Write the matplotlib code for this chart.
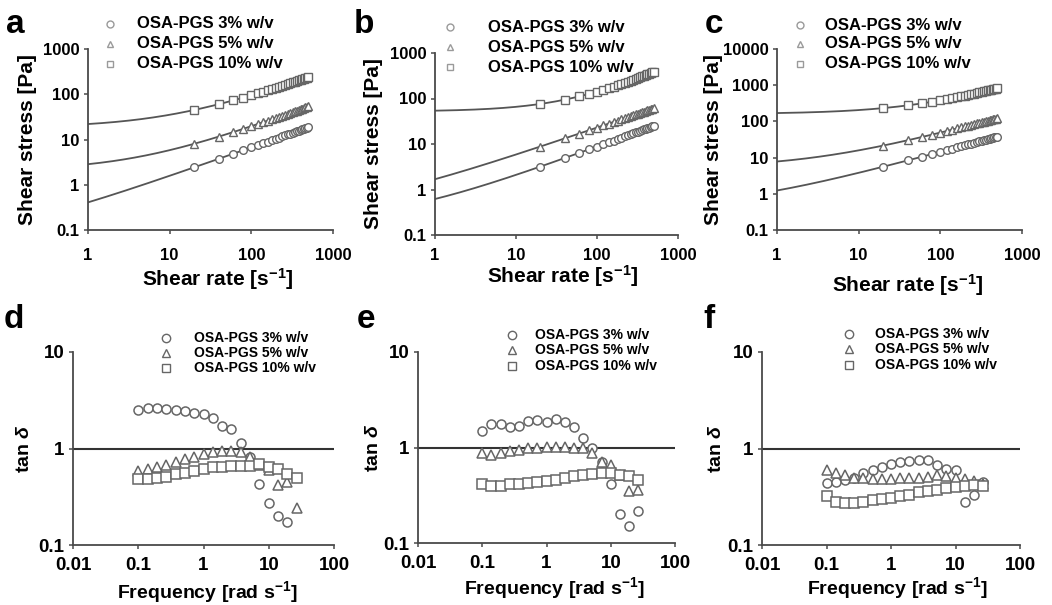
import numpy as np
import matplotlib
matplotlib.use("Agg")
import matplotlib.pyplot as plt
from matplotlib.lines import Line2D

plt.rcParams["font.family"] = ["Liberation Sans", "DejaVu Sans"]
plt.rcParams["font.weight"] = "bold"
plt.rcParams["mathtext.fontset"] = "custom"
plt.rcParams["mathtext.rm"] = "Liberation Sans:bold"
plt.rcParams["mathtext.bf"] = "Liberation Sans:bold"
plt.rcParams["mathtext.it"] = "Liberation Sans:bold:italic"

FIG_W, FIG_H = 1052, 605

labels = ["OSA-PGS 3% w/v", "OSA-PGS 5% w/v", "OSA-PGS 10% w/v"]
markers = ["o", "^", "s"]

# flow curves (a-c): shear rate [1/s] vs shear stress [Pa]
shearRate = [20, 40, 60, 80, 100, 120, 140, 160, 180, 200, 220, 240, 260,
             280, 300, 320, 340, 360, 380, 400, 420, 440, 460, 480, 500]

stressA3 = [2.43, 3.75, 4.84, 5.81, 6.69, 7.51, 8.28, 9.02, 9.72, 10.4, 11.0, 11.7, 12.3,
            12.9, 13.5, 14.0, 14.6, 15.1, 15.6, 16.2, 16.7, 17.2, 17.7, 18.2, 18.6]
stressA5 = [8.05, 11.6, 14.6, 17.2, 19.7, 22.0, 24.2, 26.2, 28.2, 30.1, 32.0, 33.8, 35.5,
            37.2, 38.9, 40.5, 42.1, 43.7, 45.2, 46.7, 48.2, 49.7, 51.1, 52.5, 53.9]
stressA10 = [45, 60.3, 73.1, 84.5, 95, 105, 114, 123, 131, 139, 147, 154, 162,
             169, 176, 183, 189, 196, 202, 209, 215, 221, 227, 233, 238]

stressB3 = [3.19, 4.92, 6.36, 7.64, 8.81, 9.91, 10.9, 11.9, 12.9, 13.8, 14.7, 15.5, 16.3,
            17.1, 17.9, 18.7, 19.4, 20.2, 20.9, 21.6, 22.3, 23.0, 23.7, 24.3, 25.0]
stressB5 = [8.8, 13.3, 16.9, 20.1, 23.0, 25.6, 28.1, 30.5, 32.7, 34.9, 36.9, 38.9, 40.9,
            42.7, 44.6, 46.3, 48.1, 49.8, 51.4, 53.1, 54.6, 56.2, 57.7, 59.3, 60.7]
stressB10 = [76, 94.4, 111, 127, 141, 156, 170, 183, 197, 210, 222, 235, 247,
             259, 271, 283, 295, 306, 318, 329, 340, 352, 363, 374, 384]

stressC3 = [5.6, 8.37, 10.6, 12.6, 14.4, 16.0, 17.6, 19.1, 20.5, 21.8, 23.1, 24.4, 25.6,
            26.7, 27.9, 29.0, 30.1, 31.1, 32.2, 33.2, 34.2, 35.2, 36.1, 37.1, 38.0]
stressC5 = [21.5, 30.2, 37.2, 43.4, 49.0, 54.2, 59.1, 63.7, 68.1, 72.3, 76.4, 80.3, 84.1,
            87.8, 91.3, 94.8, 98.2, 102, 105, 108, 111, 114, 117, 120, 123]
stressC10 = [233, 277, 315, 349, 380, 410, 438, 465, 490, 515, 540, 563, 586,
             608, 630, 652, 673, 693, 714, 733, 753, 773, 792, 810, 829]

# Herschel-Bulkley fit parameters (tau0, K, n) for the solid lines
fitA = [(0.06, 0.348, 0.64), (2.04, 0.807, 0.67), (18.2, 3.76, 0.655)]
fitB = [(0.2, 0.418, 0.657), (0.32, 1.364, 0.61), (51.9, 2.1, 0.815)]
fitC = [(0.41, 0.823, 0.615), (5.22, 2.58, 0.615), (161, 9.06, 0.692)]

# frequency sweeps (d-f): angular frequency [rad/s] vs tan delta
freq = [0.1, 0.139, 0.193, 0.268, 0.373, 0.518, 0.72, 1.0, 1.39,
        1.93, 2.68, 3.73, 5.18, 7.2, 10.0, 13.9, 19.3, 26.8]

tanD3 = [2.52, 2.6, 2.6, 2.56, 2.52, 2.46, 2.36, 2.27, 2.05,
         1.72, 1.59, 1.14, 0.82, 0.43, 0.27, 0.20, 0.174, np.nan]
tanD5 = [0.59, 0.61, 0.645, 0.68, 0.73, 0.78, 0.82, 0.87, 0.92,
         0.95, 0.95, 0.91, 0.81, 0.68, 0.60, 0.42, 0.45, 0.24]
tanD10 = [0.48, 0.48, 0.50, 0.51, 0.54, 0.56, 0.59, 0.61, 0.64,
          0.65, 0.66, 0.66, 0.66, 0.69, 0.64, 0.61, 0.54, 0.50]

tanE3 = [1.49, 1.75, 1.75, 1.65, 1.69, 1.9, 1.94, 1.87, 1.99,
         1.87, 1.62, 1.25, 1.0, 0.70, 0.41, 0.20, 0.15, 0.215]
tanE5 = [0.87, 0.84, 0.87, 0.91, 0.95, 0.98, 1.0, 1.02, 1.02,
         1.02, 1.0, 0.98, 0.87, 0.71, 0.66, 0.52, 0.35, 0.36]
tanE10 = [0.415, 0.40, 0.40, 0.41, 0.415, 0.425, 0.435, 0.45, 0.46,
          0.48, 0.50, 0.52, 0.53, 0.54, 0.54, 0.52, 0.50, 0.46]

tanF3 = [0.44, 0.45, 0.47, 0.50, 0.56, 0.60, 0.65, 0.69, 0.72,
         0.75, 0.76, 0.76, 0.68, 0.62, 0.60, 0.28, 0.33, 0.45]
tanF5 = [0.60, 0.56, 0.53, 0.50, 0.49, 0.48, 0.48, 0.48, 0.49,
         0.49, 0.50, 0.51, 0.53, 0.52, 0.50, 0.48, 0.46, 0.43]
tanF10 = [0.32, 0.28, 0.27, 0.27, 0.28, 0.29, 0.30, 0.31, 0.32,
          0.33, 0.35, 0.36, 0.37, 0.39, 0.40, 0.41, 0.42, 0.41]


def box(x0, y0, x1, y1):
    # pixel box (top-left origin) -> figure fraction rect
    return [x0 / FIG_W, 1 - y1 / FIG_H, (x1 - x0) / FIG_W, (y1 - y0) / FIG_H]


def fx(px):
    return px / FIG_W


def fy(py):
    return 1 - py / FIG_H


def styleAxis(ax, xticks, yticks, tickSize, xpad, ypad):
    for side in ("top", "right"):
        ax.spines[side].set_visible(False)
    for side in ("left", "bottom"):
        ax.spines[side].set_color("#4a4a4a")
        ax.spines[side].set_linewidth(1.3)
    ax.set_xscale("log")
    ax.set_yscale("log")
    ax.set_xlim(xticks[0], xticks[-1])
    ax.set_ylim(yticks[0], yticks[-1])
    ax.set_xticks(xticks, [f"{t:g}" for t in xticks])
    ax.set_yticks(yticks, [f"{t:g}" for t in yticks])
    ax.minorticks_off()
    ax.tick_params(axis="both", direction="out", length=3, width=1.1,
                   color="#4a4a4a", labelsize=tickSize)
    ax.tick_params(axis="x", pad=xpad)
    ax.tick_params(axis="y", pad=ypad)
    for lab in ax.get_xticklabels() + ax.get_yticklabels():
        lab.set_fontweight("bold")


def drawLegend(fig, mx, tx, rows, size, msize, mcolor):
    for (lab, mk, ry) in zip(labels, markers, rows):
        fig.add_artist(Line2D([fx(mx)], [fy(ry)], transform=fig.transFigure,
                              marker=mk, markersize=msize, markerfacecolor="white",
                              markeredgecolor=mcolor, markeredgewidth=1.0, linestyle="none"))
        fig.text(fx(tx), fy(ry), lab, fontsize=size, fontweight="bold",
                 ha="left", va="center")


fig = plt.figure(figsize=(FIG_W / 100, FIG_H / 100), dpi=100)

flowPanels = [
    ("a", box(88, 49, 333, 230), [stressA3, stressA5, stressA10], fitA,
     [0.1, 1, 10, 100, 1000], 10, (-0.207, 0.5), (0.53, -0.20), (6, 33),
     (110, 137, [24, 44, 64])),
    ("b", box(435, 53, 678, 235), [stressB3, stressB5, stressB10], fitB,
     [0.1, 1, 10, 100, 1000], 6, (-0.213, 0.5), (0.527, -0.155), (354, 33),
     (450, 488, [27, 47, 67])),
    ("c", box(777, 49, 1022, 230), [stressC3, stressC5, stressC10], fitC,
     [0.1, 1, 10, 100, 1000, 10000], 10, (-0.22, 0.5), (0.535, -0.23), (705, 33),
     (800, 825, [25, 44, 64])),
]

gammaFit = np.geomspace(1, 500, 200)
for letter, rect, series, fits, yticks, xpad, ylabPos, xlabPos, letterPos, leg in flowPanels:
    ax = fig.add_axes(rect)
    for (tau0, K, n) in fits:
        ax.plot(gammaFit, tau0 + K * gammaFit ** n, color="#555555", linewidth=1.3, zorder=2)
    for vals, mk in zip(series, markers):
        ax.plot(shearRate, vals, linestyle="none", marker=mk, markersize=5.5,
                markerfacecolor="white", markeredgecolor="#666666",
                markeredgewidth=1.0, zorder=3, clip_on=False)
    styleAxis(ax, [1, 10, 100, 1000], yticks, 12, xpad, 3)
    ax.set_ylabel("Shear stress [Pa]", fontsize=15, fontweight="bold")
    ax.set_xlabel("Shear rate [s$^{-1}$]", fontsize=15, fontweight="bold")
    ax.yaxis.set_label_coords(*ylabPos)
    ax.xaxis.set_label_coords(*xlabPos)
    fig.text(fx(letterPos[0]), fy(letterPos[1]), letter, fontsize=24,
             fontweight="bold", ha="left", va="baseline")
    drawLegend(fig, leg[0], leg[1], leg[2], 12, 5, "#9a9a9a")

sweepPanels = [
    ("d", box(73, 352, 334, 545), [tanD3, tanD5, tanD10], (-0.153, 0.5), (0.513, -0.175),
     (4, 328), (166, 194, [338, 353, 368])),
    ("e", box(418, 352, 675, 543), [tanE3, tanE5, tanE10], (-0.14, 0.5), (0.53, -0.17),
     (357, 328), (512, 535, [335, 350, 366])),
    ("f", box(762, 352, 1020, 545), [tanF3, tanF5, tanF10], (-0.143, 0.5), (0.523, -0.155),
     (703, 328), (849, 875, [334, 349, 365])),
]

for letter, rect, series, ylabPos, xlabPos, letterPos, leg in sweepPanels:
    ax = fig.add_axes(rect)
    ax.axhline(1, color="#333333", linewidth=1.5, zorder=1)
    for vals, mk in zip(series, markers):
        ax.plot(freq, vals, linestyle="none", marker=mk, markersize=6.5,
                markerfacecolor="white", markeredgecolor="#666666",
                markeredgewidth=1.1, zorder=3)
    styleAxis(ax, [0.01, 0.1, 1, 10, 100], [0.1, 1, 10], 13.5, 6, 3)
    ax.set_ylabel("tan $\\delta$", fontsize=14, fontweight="bold")
    ax.set_xlabel("Frequency [rad s$^{-1}$]", fontsize=14, fontweight="bold")
    ax.yaxis.set_label_coords(*ylabPos)
    ax.xaxis.set_label_coords(*xlabPos)
    fig.text(fx(letterPos[0]), fy(letterPos[1]), letter, fontsize=24,
             fontweight="bold", ha="left", va="baseline")
    drawLegend(fig, leg[0], leg[1], leg[2], 10, 6, "#666666")

fig.savefig("out.png", dpi=100)
